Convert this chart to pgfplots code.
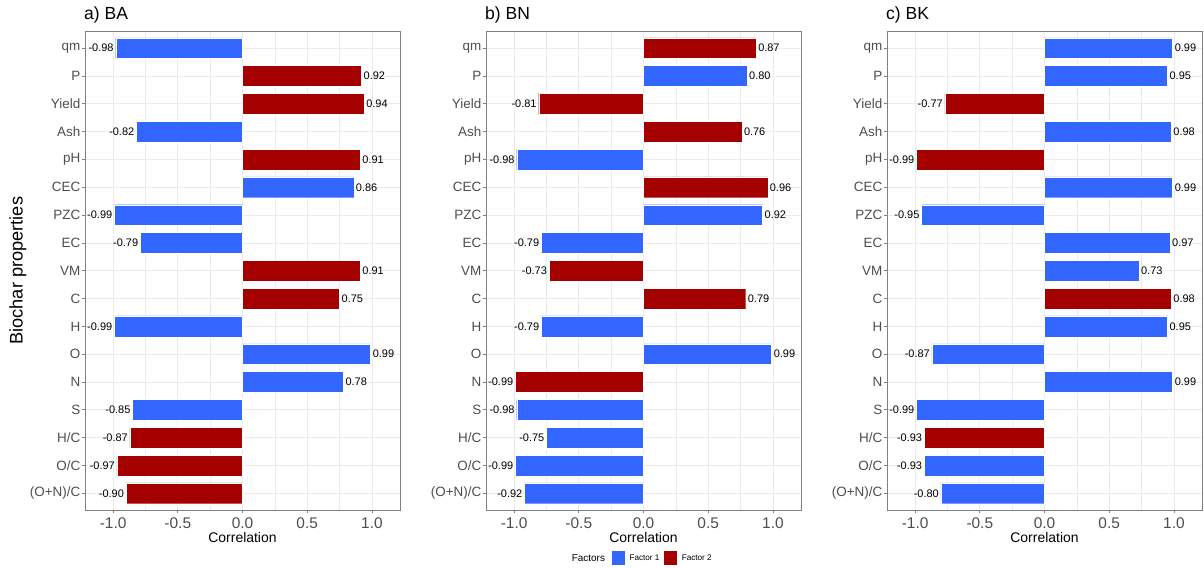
\documentclass[border=0pt]{standalone}
\usepackage{pgfplots}
\pgfplotsset{compat=1.18}
\usepackage{fontspec}
\setmainfont{Liberation Sans}
\definecolor{fone}{HTML}{3366FF}
\definecolor{ftwo}{HTML}{A50000}
\definecolor{gridc}{HTML}{EBEBEB}
\definecolor{boxc}{HTML}{808080}
\definecolor{labc}{HTML}{4D4D4D}
\pgfplotsset{
  panel/.style={
    scale only axis, width=315bp, height=478.5bp,
    xmin=-1.217, xmax=1.217, ymin=-0.6, ymax=16.6, y dir=reverse,
    xtick={-1,-0.5,0,0.5,1}, xticklabels={-1.0,-0.5,0.0,0.5,1.0},
    minor xtick={-1.25,-0.75,-0.25,0.25,0.75,1.25},
    ytick={0,...,16},
    yticklabels={qm,P,Yield,Ash,pH,CEC,PZC,EC,VM,C,H,O,N,S,H/C,O/C,(O+N)/C},
    xmajorgrids, xminorgrids, ymajorgrids,
    major grid style={draw=gridc, line width=0.8bp},
    minor grid style={draw=gridc, line width=0.5bp},
    axis line style={draw=boxc, line width=1bp},
    tick align=outside, xtick pos=left, ytick pos=left,
    major tick length=3bp, minor tick length=0pt,
    tick style={draw=boxc, line width=0.8bp},
    /pgf/number format/assume math mode=true,
    xticklabel style={font=\fontsize{15.5}{16}\selectfont, text=labc, yshift=-1bp},
    yticklabel style={font=\fontsize{13.5}{14}\selectfont, text=labc, inner sep=1.5bp},
    xlabel={Correlation},
    xlabel style={font=\fontsize{14}{15}\selectfont, at={(axis description cs:0.5,-0.0575)}, anchor=center},
    title style={font=\fontsize{17.6}{18}\selectfont, at={(axis description cs:0,1)}, anchor=base west, yshift=6.5bp, xshift=-1bp, inner sep=0pt},
    xbar, bar width=0.75, bar shift=0pt,
    point meta=x,
    nodes near coords={\pgfmathprintnumber[fixed,fixed zerofill,precision=2]{\pgfplotspointmeta}},
    nodes near coords style={font=\fontsize{11}{12}\selectfont, text=black, inner sep=2bp},
  },
  fa/.style={fill=fone, draw=white, line width=0.3bp, bar shift=0pt},
  fb/.style={fill=ftwo, draw=white, line width=0.3bp, bar shift=0pt},
}
\begin{document}
\begin{tikzpicture}
\path[use as bounding box] (0,0) rectangle (1204bp,568bp);
% Panel a
\begin{axis}[panel, at={(85bp,58bp)}, anchor=south west, title={a) BA},
  ylabel={Biochar properties},
  ylabel style={font=\fontsize{18.3}{19}\selectfont, at={(axis description cs:-0.2127,0.5)}, anchor=center}]
\addplot[fa] coordinates {(-0.98,0) (-0.82,3) (0.86,5) (-0.99,6) (-0.79,7) (-0.99,10) (0.99,11) (0.78,12) (-0.85,13)};
\addplot[fb] coordinates {(0.92,1) (0.94,2) (0.91,4) (0.91,8) (0.75,9) (-0.87,14) (-0.97,15) (-0.90,16)};
\end{axis}
% Panel b
\begin{axis}[panel, at={(486bp,58bp)}, anchor=south west, title={b) BN}, clip=false,
  legend columns=-1,
  legend style={at={(axis description cs:0.5587,-0.1003)}, anchor=center, draw=none, fill=none,
    font=\fontsize{8.2}{9}\selectfont, inner sep=0pt, column sep=3bp,
    nodes={inner sep=1bp}},
  legend image code/.code={\fill[#1] (0bp,-7.5bp) rectangle (14bp,7.5bp);}]
\addplot[fa] coordinates {(0.80,1) (-0.98,4) (0.92,6) (-0.79,7) (-0.79,10) (0.99,11) (-0.98,13) (-0.75,14) (-0.99,15) (-0.92,16)};
\addlegendentry{Factor 1}
\addplot[fb] coordinates {(0.87,0) (-0.81,2) (0.76,3) (0.96,5) (-0.73,8) (0.79,9) (-0.99,12)};
\addlegendentry{Factor 2}
\node[font=\fontsize{10}{11}\selectfont, text=black, anchor=center] at (axis description cs:0.325,-0.1003) {Factors};
\end{axis}
% Panel c
\begin{axis}[panel, at={(887bp,58bp)}, anchor=south west, title={c) BK}]
\addplot[fa] coordinates {(0.99,0) (0.95,1) (0.98,3) (0.99,5) (-0.95,6) (0.97,7) (0.73,8) (0.95,10) (-0.87,11) (0.99,12) (-0.99,13) (-0.93,15) (-0.80,16)};
\addplot[fb] coordinates {(-0.77,2) (-0.99,4) (0.98,9) (-0.93,14)};
\end{axis}
\end{tikzpicture}
\end{document}
